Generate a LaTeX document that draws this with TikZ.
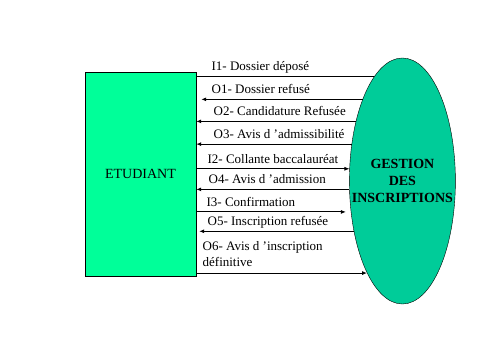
\documentclass[tikz,border=0pt]{standalone}
\usepackage{fontspec}
\setmainfont{Liberation Serif}
\usetikzlibrary{arrows.meta,positioning,shapes.geometric}
\definecolor{ActorGreen}{HTML}{00FF99}
\definecolor{ProcGreen}{HTML}{00CC99}
\tikzset{
  actor/.style={draw=black, fill=ActorGreen, minimum width=111pt, minimum height=204pt, inner sep=0pt, font=\fontsize{14}{17}\selectfont},
  proc/.style={draw=black, fill=ProcGreen, ellipse, minimum width=106pt, minimum height=246pt, inner sep=0pt},
  proctext/.style={align=center, inner sep=0pt, font=\fontsize{14}{17}\selectfont\bfseries},
  flowlbl/.style={anchor=base west, inner sep=0pt, yshift=5.5pt, font=\fontsize{13}{16.5}\selectfont},
  flowin/.style={-{Latex[length=5pt,width=4pt]}, line width=0.9pt},
  flowout/.style={{Latex[length=5pt,width=4pt]}-, line width=0.9pt},
  flowplain/.style={line width=0.9pt}
}

\begin{document}
\begin{tikzpicture}[x=1pt,y=1pt]
  \path[use as bounding box, fill=white] (0,0) rectangle (480,360);
  \node[actor] (etud) at (140.5,186) {ETUDIANT};
  \node[proc, right=153pt of etud, yshift=-7pt] (gestion) {};
  \node[proctext] (gtxt) at (gestion) {GESTION\\DES\\INSCRIPTIONS};
  % flux etudiant <-> gestion, du haut vers le bas
  \draw[flowplain] (etud.east |- gestion.105) -- node[flowlbl, pos=0, xshift=15pt] (i1) {I1- Dossier déposé} (gestion.105);
  \draw[flowout, shorten <=5pt] (etud.east |- gestion.116) -- node[flowlbl, pos=0, xshift=15pt] (o1) {O1- Dossier refusé} (gestion.116);
  \draw[flowout] (etud.east |- gestion.128) -- node[flowlbl, pos=0, xshift=17pt] (o2) {O2- Candidature Refusée} (gestion.128);
  \draw[flowout] (etud.east |- gestion.144) -- node[flowlbl, pos=0, xshift=17pt] (o3) {O3- Avis d ’admissibilité} (gestion.144);
  \draw[flowin] (etud.east |- gestion.167) -- node[flowlbl, pos=0, xshift=11pt] (i2) {I2- Collante baccalauréat} (gestion.167);
  \draw[flowout] (etud.east |- gestion.189) -- node[flowlbl, pos=0, xshift=12pt] (o4) {O4- Avis d ’admission} (gestion.189);
  \draw[flowin, shorten >=5pt] (etud.east |- gestion.211) -- node[flowlbl, pos=0, xshift=10pt] (i3) {I3- Confirmation} (gestion.211);
  \draw[flowout, shorten <=3pt] (etud.east |- gestion.226) -- node[flowlbl, pos=0, xshift=11pt] (o5) {O5- Inscription refusée} (gestion.226);
  \draw[flowin] (etud.east |- gestion.249) -- node[flowlbl, pos=0, xshift=6pt, anchor=south west, align=left] (o6) {O6- Avis d ’inscription\\définitive} (gestion.249);
\end{tikzpicture}
\end{document}
